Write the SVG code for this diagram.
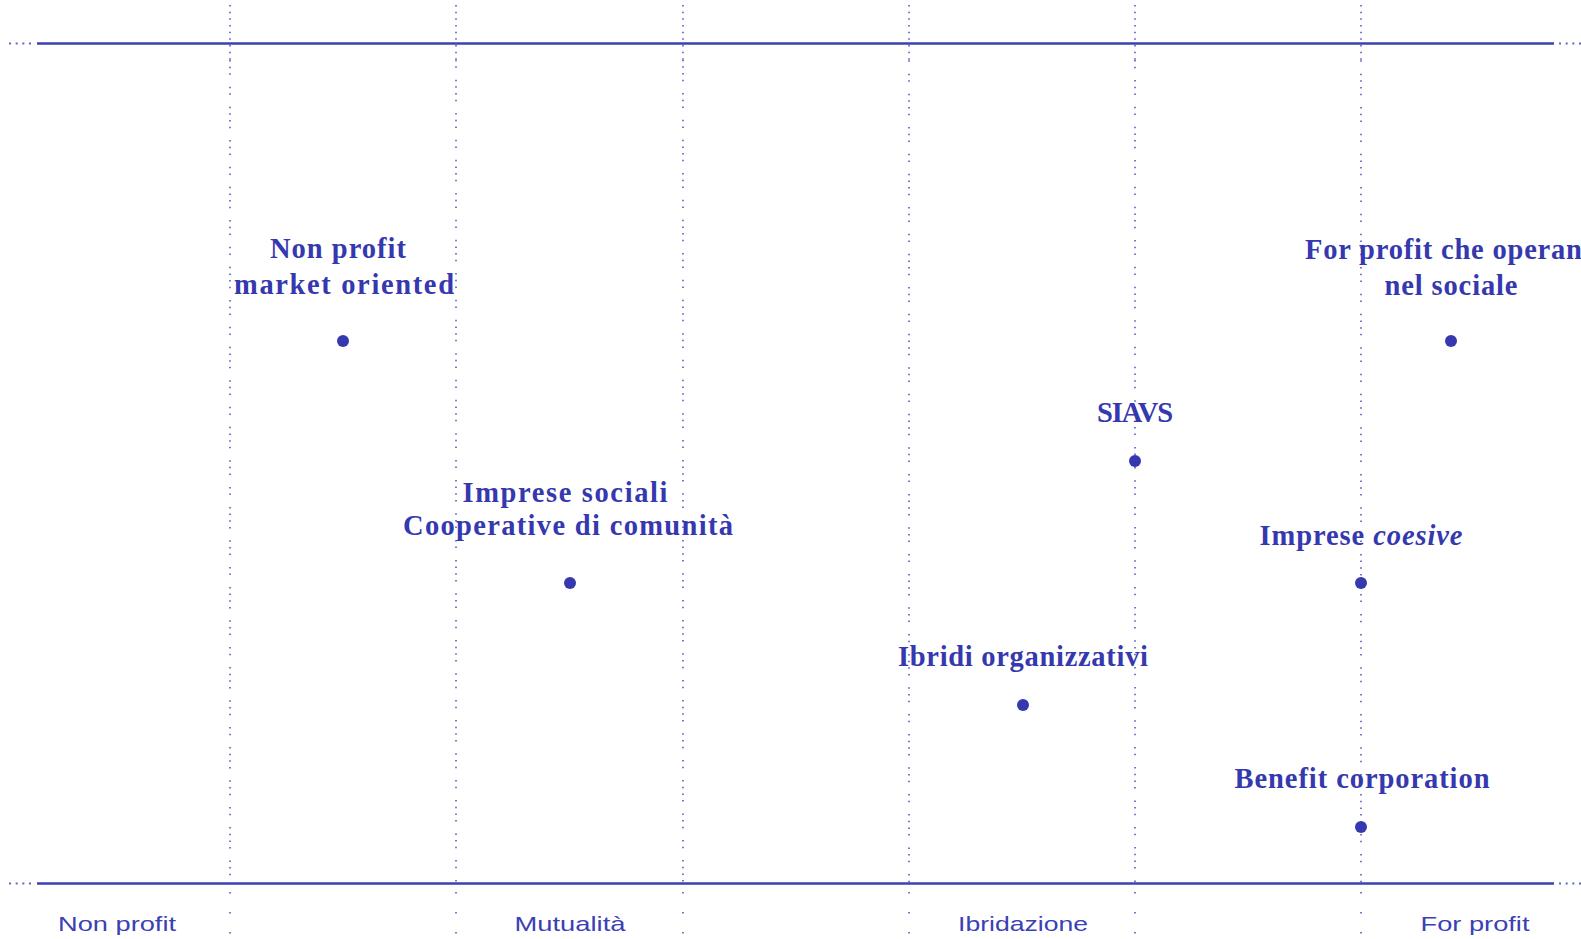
<svg xmlns="http://www.w3.org/2000/svg" width="1581" height="939" viewBox="0 0 1581 939">
<style>
.axis{stroke:#3b40b4;stroke-width:2.6;fill:none}
.axdot{stroke:#3b40b4;stroke-width:2.2;stroke-dasharray:2 4.67;fill:none;opacity:.8}
.vline{stroke:#4349bd;stroke-width:1.7;fill:none;opacity:.85;stroke-dasharray:1.5 5.17 1.5 5.17 1.5 11.84 1.5 5.17 1.5 11.84 1.5 5.17 1.5 5.17 1.5 5.17 1.5 11.84}
.vtop{stroke:#4349bd;stroke-width:1.7;fill:none;opacity:.85;stroke-dasharray:1.5 5.17}
.vlow{stroke:#4349bd;stroke-width:1.7;fill:none;opacity:.85;stroke-dasharray:1.5 18.5}
.lbl{font-family:"Liberation Serif","Times New Roman",serif;font-weight:bold;font-size:28.5px;fill:#3538ae;text-anchor:middle}
.ax{font-family:"Liberation Sans",Arial,sans-serif;font-size:21px;fill:#3b40b4;text-anchor:middle}
.dot{fill:#3538ae}
</style>
<g id="grid">
<line class="vtop" x1="230" y1="5" x2="230" y2="60"/>
<line class="vline" x1="230" y1="60" x2="230" y2="883"/>
<line class="vlow" x1="230" y1="892" x2="230" y2="939"/>
<line class="vtop" x1="456" y1="5" x2="456" y2="60"/>
<line class="vline" x1="456" y1="60" x2="456" y2="883" style="stroke-dashoffset:27"/>
<line class="vlow" x1="456" y1="892" x2="456" y2="939"/>
<line class="vtop" x1="683" y1="5" x2="683" y2="60"/>
<line class="vline" x1="683" y1="60" x2="683" y2="883" style="stroke-dashoffset:47"/>
<line class="vlow" x1="683" y1="892" x2="683" y2="939"/>
<line class="vtop" x1="909" y1="5" x2="909" y2="60"/>
<line class="vline" x1="909" y1="60" x2="909" y2="883" style="stroke-dashoffset:13"/>
<line class="vlow" x1="909" y1="892" x2="909" y2="939"/>
<line class="vtop" x1="1135" y1="5" x2="1135" y2="60"/>
<line class="vline" x1="1135" y1="60" x2="1135" y2="883" style="stroke-dashoffset:60"/>
<line class="vlow" x1="1135" y1="892" x2="1135" y2="939"/>
<line class="vtop" x1="1361" y1="5" x2="1361" y2="60"/>
<line class="vline" x1="1361" y1="60" x2="1361" y2="883" style="stroke-dashoffset:33"/>
<line class="vlow" x1="1361" y1="892" x2="1361" y2="939"/>
</g>
<g id="axes">
<line class="axdot" x1="9" y1="43.5" x2="35" y2="43.5"/>
<line class="axis" x1="37" y1="43.5" x2="1554" y2="43.5"/>
<line class="axdot" x1="1559" y1="43.5" x2="1581" y2="43.5"/>
<line class="axdot" x1="9" y1="883.5" x2="35" y2="883.5"/>
<line class="axis" x1="37" y1="883.5" x2="1554" y2="883.5"/>
<line class="axdot" x1="1559" y1="883.5" x2="1581" y2="883.5"/>
<text class="ax" x="117" y="931" textLength="118" lengthAdjust="spacingAndGlyphs">Non profit</text>
<text class="ax" x="570" y="931" textLength="111" lengthAdjust="spacingAndGlyphs">Mutualità</text>
<text class="ax" x="1023" y="931" textLength="130" lengthAdjust="spacingAndGlyphs">Ibridazione</text>
<text class="ax" x="1475" y="931" textLength="109" lengthAdjust="spacingAndGlyphs">For profit</text>
</g>
<g id="node-nonprofit-market">
<text class="lbl" x="338" y="258" textLength="136" lengthAdjust="spacing">Non profit</text>
<text class="lbl" x="344" y="294" textLength="220" lengthAdjust="spacing">market oriented</text>
<circle class="dot" cx="343" cy="341" r="6"/>
</g>
<g id="node-forprofit-sociale">
<text class="lbl" x="1305" y="259" style="text-anchor:start" textLength="292" lengthAdjust="spacing">For profit che operano</text>
<text class="lbl" x="1451" y="295" textLength="133" lengthAdjust="spacing">nel sociale</text>
<circle class="dot" cx="1451" cy="341" r="6"/>
</g>
<g id="node-siavs">
<text class="lbl" x="1135" y="422" textLength="76" lengthAdjust="spacing">SIAVS</text>
<circle class="dot" cx="1135" cy="461" r="6"/>
</g>
<g id="node-imprese-sociali">
<text class="lbl" x="565" y="502" textLength="205" lengthAdjust="spacing">Imprese sociali</text>
<text class="lbl" x="568" y="535" textLength="330" lengthAdjust="spacing">Cooperative di comunità</text>
<circle class="dot" cx="570" cy="583" r="6"/>
</g>
<g id="node-imprese-coesive">
<text class="lbl" x="1361" y="545" textLength="203" lengthAdjust="spacing">Imprese <tspan font-style="italic">coesive</tspan></text>
<circle class="dot" cx="1361" cy="583" r="6"/>
</g>
<g id="node-ibridi">
<text class="lbl" x="1023" y="666" textLength="250" lengthAdjust="spacing">Ibridi organizzativi</text>
<circle class="dot" cx="1023" cy="705" r="6"/>
</g>
<g id="node-benefit">
<text class="lbl" x="1362" y="788" textLength="255" lengthAdjust="spacing">Benefit corporation</text>
<circle class="dot" cx="1361" cy="827" r="6"/>
</g>
</svg>
